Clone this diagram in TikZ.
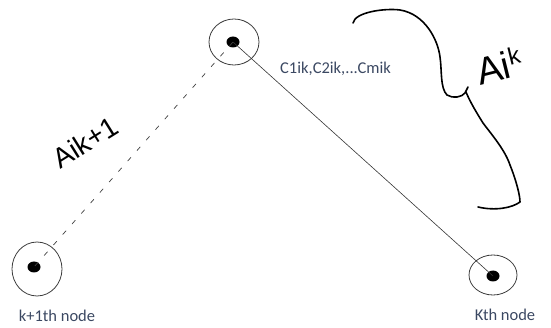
\documentclass[tikz,border=0pt]{standalone}
\usepackage{fontspec}
\usetikzlibrary{shapes.geometric}
\newfontfamily\labfont{Carlito}
\newfontfamily\handfont{Liberation Sans}
\definecolor{labcol}{RGB}{59,72,98}
\definecolor{ringcol}{RGB}{60,60,60}
\begin{document}
\begin{tikzpicture}[x=1pt,y=-1pt,
  ring/.style={draw=ringcol,line width=0.8pt,ellipse,minimum width=50pt,minimum height=46pt,inner sep=0pt},
  dotnode/.style={fill=black,ellipse,minimum width=13pt,minimum height=11pt,inner sep=0pt},
  lab/.style={font=\labfont\fontsize{16.5}{18}\selectfont,text=labcol,inner sep=0pt},
  hand/.style={font=\handfont\fontsize{28}{30}\selectfont,inner sep=0pt}]
\useasboundingbox (0,0) rectangle (551,328);
\node[ring] (rt) at (234,42) {};
\node[ring,minimum width=50pt,minimum height=54pt] (rl) at (37,269) {};
\node[ring,minimum width=48pt,minimum height=40pt] (rr) at (493,275) {};
\node[dotnode] (dt) at (233,42) {};
\node[dotnode] (dl) at (34,267) {};
\node[dotnode] (dr) at (493,276) {};
\draw[line width=0.6pt,black!80] (dt.center) -- (dr.center);
\draw[line width=0.7pt,black!75,dash pattern=on 5pt off 9pt] (dt.center) -- (dl.center);
\node[lab,anchor=west] (c) at (280,69) {C1ik,C2ik,...Cmik};
\node[lab] (kl) at (57,316) {k+1th node};
\node[lab] (kr) at (505,315) {Kth node};
\node[hand,rotate=32] (a1) at (85,142) {Aik+1};
\node[hand,font=\handfont\fontsize{38}{40}\selectfont,rotate=14,anchor=south west] (a2) at (480,86) {Ai\raisebox{12pt}{\fontsize{24}{26}\selectfont k}};
\draw[line width=1.6pt,line cap=round,line join=round]
  (353,23) .. controls (355,12) and (385,8) .. (400,10)
  .. controls (425,14) and (438,40) .. (440,57)
  .. controls (442,70) and (440,88) .. (447,95)
  .. controls (453,99) and (462,97) .. (465,93)
  -- (468,87);
\draw[line width=1.6pt,line cap=round,line join=round]
  (466,92) .. controls (470,102) and (478,115) .. (483,123)
  .. controls (492,135) and (505,150) .. (510,165)
  .. controls (516,180) and (520,195) .. (520,202)
  .. controls (512,208) and (495,211) .. (478,207);
\end{tikzpicture}
\end{document}
